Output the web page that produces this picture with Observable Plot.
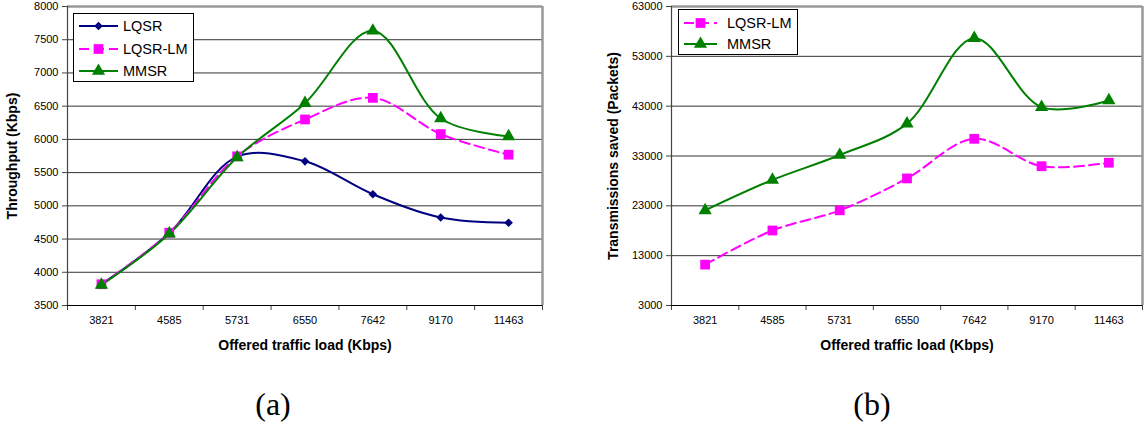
<!DOCTYPE html>
<html><head><meta charset="utf-8">
<script src="https://cdn.jsdelivr.net/npm/d3@7"></script>
<script src="https://cdn.jsdelivr.net/npm/@observablehq/plot@0.6"></script>
<style>
html,body{margin:0;padding:0;background:#fff;width:1145px;height:427px;overflow:hidden;font-family:Arial,"Liberation Sans",sans-serif}
#root{position:relative;width:1145px;height:427px}
.panel{position:absolute;top:0}
.legend{position:absolute;border:1px solid #000;background:#fff;font-size:14.5px;color:#000;box-sizing:border-box}
.legend .row{position:absolute;left:0;height:20px;display:flex;align-items:center;white-space:nowrap}
.legend svg{display:block}
.caption{position:absolute;font-family:"Liberation Serif","Times New Roman",serif;font-size:32px;line-height:1;transform:translateX(-50%);color:#000}
</style>
</head><body>
<div id="root"></div>
<script>
// ---- data ----
const loads = ["3821", "4585", "5731", "6550", "7642", "9170", "11463"];
const thrLQSR   = [3820, 4590, 5740, 5670, 5175, 4825, 4745];
const thrLQSRLM = [3820, 4595, 5745, 6300, 6625, 6080, 5770];
const thrMMSR   = [3810, 4580, 5730, 6545, 7635, 6315, 6045];
const savedLQSRLM = [11200, 18050, 22100, 28500, 36450, 30950, 31650];
const savedMMSR   = [22100, 28200, 33200, 39500, 56650, 42800, 44150];
const thrTicks   = [3500, 4000, 4500, 5000, 5500, 6000, 6500, 7000, 7500, 8000];
const savedTicks = [3000, 13000, 23000, 33000, 43000, 53000, 63000];
const seriesNames = ["LQSR", "LQSR-LM", "MMSR"];

const styles = {
  "LQSR":    {color: "#000080", symbol: "diamond2", r: 3.9, dash: null},
  "LQSR-LM": {color: "#FF00FF", symbol: "square",   r: 5.5, dash: "10,5"},
  "MMSR":    {color: "#008000", symbol: "triangle", r: 4.9, dash: null}
};

function makePanel({width, marginLeft, marginRight, yDomain, yTicks, series, yLabel, yLabelDx}) {
  const marks = [
    Plot.gridY(yTicks, {stroke: "#333", strokeOpacity: 1, strokeWidth: 1}),
    Plot.axisY(yTicks, {tickSize: 5, tickPadding: 4, tickFormat: d3.format("d"), label: null, fontSize: 11, stroke: "#444"}),
    Plot.axisX(loads.map((_, i) => i), {tickSize: 0, tickPadding: 11, tickFormat: i => loads[i], label: null, fontSize: 11}),
    Plot.axisX(d3.range(loads.length + 1).map(i => i - 0.5), {tickSize: 5, tickFormat: () => "", label: null, stroke: "#444"}),
    Plot.ruleY([yDomain[1]], {stroke: "#999", strokeWidth: 2.5}),
    Plot.ruleX([loads.length - 0.5], {stroke: "#999", strokeWidth: 2.5}),
    Plot.ruleX([-0.5], {stroke: "#444", strokeWidth: 1.2}),
    Plot.ruleY([yDomain[0]], {stroke: "#000", strokeWidth: 1.2})
  ];
  for (const [name, values] of series) {
    const st = styles[name];
    const rows = values.map((v, i) => ({i, v}));
    marks.push(Plot.line(rows, {x: "i", y: "v", stroke: st.color, strokeWidth: 2, curve: "catmull-rom", strokeDasharray: st.dash}));
  }
  for (const [name, values] of series) {
    const st = styles[name];
    const rows = values.map((v, i) => ({i, v}));
    marks.push(Plot.dot(rows, {x: "i", y: "v", symbol: () => st.symbol, fill: st.color, stroke: "none", r: st.r}));
  }
  marks.push(Plot.text([yLabel], {frameAnchor: "left", textAnchor: "middle", rotate: -90, dx: yLabelDx, fontWeight: "bold", fontSize: 14, fill: "#000"}));
  marks.push(Plot.text(["Offered traffic load (Kbps)"], {frameAnchor: "bottom", textAnchor: "middle", dy: 44, fontWeight: "bold", fontSize: 14, fill: "#000"}));
  return Plot.plot({
    width, height: 360, marginLeft, marginRight, marginTop: 6, marginBottom: 55,
    x: {type: "linear", domain: [-0.5, loads.length - 0.5], label: null},
    y: {domain: yDomain, label: null},
    symbol: {type: "identity"},
    style: {fontFamily: "Arial, 'Liberation Sans', sans-serif", fontSize: "11px", color: "#000", background: "transparent", overflow: "visible"},
    marks
  });
}

const root = document.getElementById("root");

const pa = makePanel({
  width: 572, marginLeft: 67, marginRight: 30,
  yDomain: [3500, 8000], yTicks: thrTicks,
  series: [["LQSR", thrLQSR], ["LQSR-LM", thrLQSRLM], ["MMSR", thrMMSR]],
  yLabel: "Throughput (Kbps)", yLabelDx: -55
});
pa.classList.add("panel"); pa.style.left = "0px";
root.appendChild(pa);

const pb = makePanel({
  width: 565, marginLeft: 91, marginRight: 3,
  yDomain: [3000, 63000], yTicks: savedTicks,
  series: [["LQSR-LM", savedLQSRLM], ["MMSR", savedMMSR]],
  yLabel: "Transmissions saved (Packets)", yLabelDx: -58
});
pb.classList.add("panel"); pb.style.left = "580px";
root.appendChild(pb);

function symbolPath(name, r) {
  const map = {diamond2: d3.symbolDiamond2, square: d3.symbolSquare, triangle: d3.symbolTriangle};
  return d3.symbol(map[name], r * r * Math.PI)();
}

function makeLegend({left, top, width, height, names, rowCenters, sampleLeft, sampleWidth, textGap}) {
  const box = document.createElement("div");
  box.className = "legend";
  Object.assign(box.style, {left: left + "px", top: top + "px", width: width + "px", height: height + "px"});
  names.forEach((name, k) => {
    const st = styles[name];
    const row = document.createElement("div");
    row.className = "row";
    row.style.top = (rowCenters[k] - 10) + "px";
    row.style.left = sampleLeft + "px";
    const svg = d3.create("svg").attr("width", sampleWidth).attr("height", 20);
    svg.append("line").attr("x1", 0).attr("x2", sampleWidth).attr("y1", 10).attr("y2", 10)
      .attr("stroke", st.color).attr("stroke-width", 2).attr("stroke-dasharray", st.dash);
    svg.append("path").attr("d", symbolPath(st.symbol, st.r)).attr("transform", `translate(${sampleWidth / 2},10)`).attr("fill", st.color);
    row.appendChild(svg.node());
    const t = document.createElement("span");
    t.textContent = name;
    t.style.marginLeft = textGap + "px";
    row.appendChild(t);
    box.appendChild(row);
  });
  root.appendChild(box);
}

makeLegend({left: 73, top: 13, width: 121, height: 69, names: seriesNames, rowCenters: [12, 35, 57], sampleLeft: 5, sampleWidth: 39, textGap: 5});
makeLegend({left: 678, top: 9, width: 120, height: 46, names: ["LQSR-LM", "MMSR"], rowCenters: [12.5, 34], sampleLeft: 5, sampleWidth: 33, textGap: 10});

for (const [label, cx] of [["(a)", 273], ["(b)", 872]]) {
  const c = document.createElement("div");
  c.className = "caption";
  c.textContent = label;
  c.style.left = cx + "px";
  c.style.top = "388px";
  root.appendChild(c);
}
</script>
</body></html>
